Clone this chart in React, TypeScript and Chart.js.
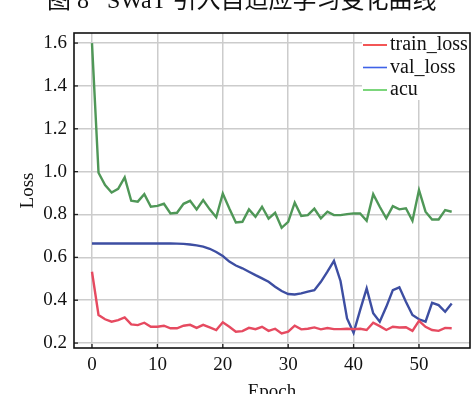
import React, { useEffect, useRef } from "react";
import { Chart, registerables } from "chart.js";

Chart.register(...registerables);

const chartTitle = "图 8   SWaT 引入自适应学习变化曲线";
const xTitle = "Epoch";
const yTitle = "Loss";

const epochs = [
  0, 1, 2, 3, 4, 5, 6, 7, 8, 9, 10, 11, 12, 13, 14, 15, 16, 17, 18, 19,
  20, 21, 22, 23, 24, 25, 26, 27, 28, 29, 30, 31, 32, 33, 34, 35, 36, 37, 38, 39,
  40, 41, 42, 43, 44, 45, 46, 47, 48, 49, 50, 51, 52, 53, 54, 55,
];

const trainLoss = [
  0.533, 0.331, 0.311, 0.3, 0.307, 0.32, 0.287, 0.284, 0.295, 0.276,
  0.276, 0.281, 0.269, 0.269, 0.281, 0.285, 0.271, 0.285, 0.273, 0.261,
  0.297, 0.276, 0.253, 0.256, 0.271, 0.265, 0.276, 0.257, 0.267, 0.245,
  0.253, 0.281, 0.264, 0.267, 0.273, 0.264, 0.27, 0.265, 0.265, 0.267,
  0.265, 0.267, 0.261, 0.295, 0.279, 0.261, 0.276, 0.273, 0.274, 0.257,
  0.304, 0.276, 0.261, 0.257, 0.271, 0.269,
];

const valLoss = [
  0.665, 0.665, 0.665, 0.665, 0.665, 0.665, 0.665, 0.665, 0.665, 0.665,
  0.665, 0.665, 0.665, 0.664, 0.663, 0.66, 0.656, 0.65, 0.64, 0.625,
  0.606, 0.58, 0.562, 0.549, 0.533, 0.517, 0.502, 0.486, 0.463, 0.443,
  0.429, 0.427, 0.432, 0.44, 0.447, 0.486, 0.533, 0.584, 0.49, 0.315,
  0.248, 0.354, 0.455, 0.339, 0.3, 0.369, 0.447, 0.46, 0.393, 0.331,
  0.311, 0.3, 0.388, 0.377, 0.346, 0.385,
];

const acu = [
  1.6, 0.995, 0.937, 0.903, 0.92, 0.973, 0.864, 0.86, 0.895, 0.836,
  0.84, 0.85, 0.805, 0.808, 0.85, 0.864, 0.824, 0.867, 0.824, 0.787,
  0.898, 0.828, 0.763, 0.766, 0.824, 0.789, 0.836, 0.781, 0.808, 0.738,
  0.766, 0.855, 0.793, 0.797, 0.827, 0.782, 0.813, 0.797, 0.797, 0.802,
  0.805, 0.805, 0.771, 0.895, 0.836, 0.782, 0.839, 0.824, 0.829, 0.771,
  0.914, 0.813, 0.777, 0.777, 0.821, 0.813,
];

const seriesNames = ["train_loss", "val_loss", "acu"];
const lineColors = ["#e64a60", "#3d4ea2", "#4f9757"];
const legendColors = ["#f02c2c", "#3f62e8", "#5ccc5c"];

const SERIF = "'Liberation Serif', 'Times New Roman', serif";

const overlayPlugin = {
  id: "overlay",
  afterDraw(chart: any) {
    const { ctx, chartArea: a, scales } = chart;
    ctx.save();
    // title (cropped at top)
    ctx.fillStyle = "#111";
    ctx.font = `24px 'Liberation Serif', 'Noto Sans CJK SC', serif`;
    ctx.textAlign = "left";
    ctx.textBaseline = "alphabetic";
    ctx.fillText(chartTitle, 47, 28);

    // inward tick marks
    ctx.strokeStyle = "#222";
    ctx.lineWidth = 1.3;
    scales.x.ticks.forEach((t: any) => {
      const px = scales.x.getPixelForValue(t.value);
      ctx.beginPath();
      ctx.moveTo(px, a.bottom);
      ctx.lineTo(px, a.bottom - 4);
      ctx.stroke();
    });
    scales.y.ticks.forEach((t: any) => {
      const py = scales.y.getPixelForValue(t.value);
      ctx.beginPath();
      ctx.moveTo(a.left, py);
      ctx.lineTo(a.left + 4, py);
      ctx.stroke();
    });

    // legend
    const lx = a.right - 108;
    ctx.fillStyle = "#ffffff";
    ctx.fillRect(lx, a.top, a.right - lx, 67);
    ctx.font = `20px ${SERIF}`;
    ctx.textBaseline = "middle";
    seriesNames.forEach((name, i) => {
      const y = a.top + 12 + i * 22.5;
      ctx.strokeStyle = legendColors[i];
      ctx.lineWidth = 1.6;
      ctx.beginPath();
      ctx.moveTo(lx + 1, y);
      ctx.lineTo(lx + 25, y);
      ctx.stroke();
      ctx.fillStyle = "#111";
      ctx.fillText(name, lx + 28, y);
    });

    // frame
    ctx.strokeStyle = "#111";
    ctx.lineWidth = 1.6;
    ctx.strokeRect(a.left, a.top, a.right - a.left, a.bottom - a.top);
    ctx.restore();
  },
};

export default function App() {
  const ref = useRef<HTMLCanvasElement>(null);

  useEffect(() => {
    if (!ref.current) return;
    const mk = (vals: number[]) => epochs.map((e, i) => ({ x: e, y: vals[i] }));
    const seriesVals = [trainLoss, valLoss, acu];
    const chart = new Chart(ref.current, {
      type: "line",
      data: {
        datasets: seriesVals.map((vals, i) => ({
          label: seriesNames[i],
          data: mk(vals),
          borderColor: lineColors[i],
          backgroundColor: lineColors[i],
          borderWidth: 2.4,
          pointRadius: 0,
          tension: 0,
          fill: false,
        })),
      },
      options: {
        responsive: false,
        animation: false,
        layout: { padding: { left: 0, right: 3, top: 53, bottom: 0 } },
        plugins: {
          legend: { display: false },
          title: { display: false },
          tooltip: { enabled: false },
        },
        scales: {
          x: {
            type: "linear",
            min: -2.75,
            max: 57.8,
            afterFit: (s: any) => {
              s.height = 61;
            },
            ticks: {
              stepSize: 10,
              includeBounds: false,
              padding: 6,
              color: "#111",
              font: { family: SERIF, size: 19 },
              maxRotation: 0,
              callback: (v: any) => String(v),
            },
            grid: { color: "#cccccc", lineWidth: 1.5, drawTicks: false },
            border: { display: false },
            title: {
              display: true,
              text: xTitle,
              color: "#111",
              font: { family: SERIF, size: 19 },
              padding: { top: 0, bottom: 6 },
            },
          },
          y: {
            type: "linear",
            min: 0.177,
            max: 1.647,
            afterFit: (s: any) => {
              s.width = 74;
            },
            ticks: {
              stepSize: 0.2,
              includeBounds: false,
              padding: 7,
              color: "#111",
              font: { family: SERIF, size: 19 },
              callback: (v: any) => Number(v).toFixed(1),
            },
            grid: { color: "#cccccc", lineWidth: 1.5, drawTicks: false },
            border: { display: false },
            title: {
              display: true,
              text: yTitle,
              color: "#111",
              font: { family: SERIF, size: 19 },
              padding: { top: 17, bottom: 0 },
            },
          },
        },
      },
      plugins: [overlayPlugin],
    });
    return () => chart.destroy();
  }, []);

  return (
    <div style={{ position: "absolute", left: 0, top: -20, width: 473, height: 429, background: "#fff" }}>
      <canvas ref={ref} width={473} height={429} style={{ width: 473, height: 429, display: "block" }} />
    </div>
  );
}
